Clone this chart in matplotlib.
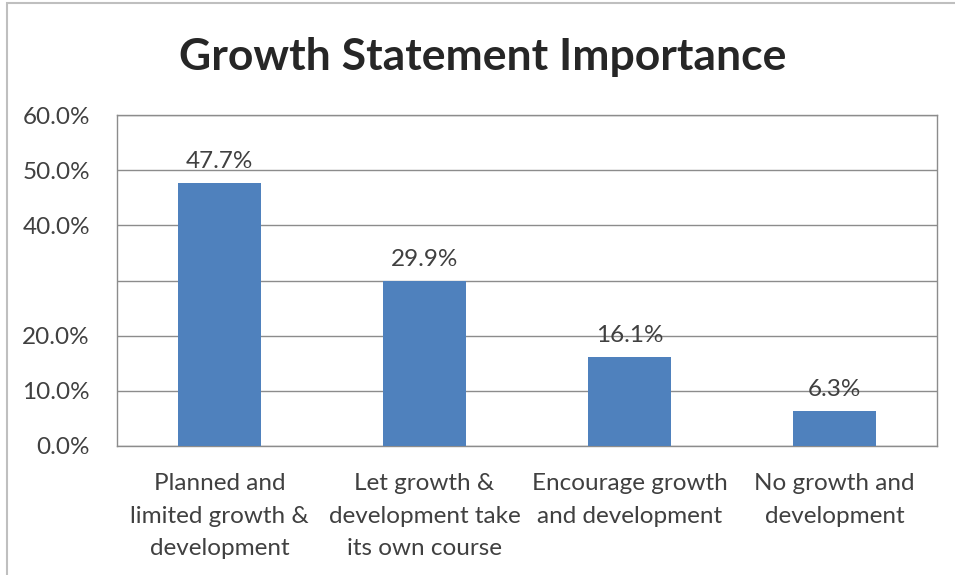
import matplotlib.pyplot as plt
from matplotlib.patches import Rectangle

categories = ["Planned and\nlimited growth &\ndevelopment",
              "Let growth &\ndevelopment take\nits own course",
              "Encourage growth\nand development",
              "No growth and\ndevelopment"]
values = [47.7, 29.9, 16.1, 6.3]
yticks = [0, 10, 20, 30, 40, 50, 60]
ytick_labels = ["0.0%", "10.0%", "20.0%", "", "40.0%", "50.0%", "60.0%"]

plt.rcParams['font.family'] = ['Lato', 'DejaVu Sans']
txt = "#404040"

fig = plt.figure(figsize=(9.55, 5.75), dpi=100)
W, H = 955, 575

# chart frame
fig.patches.append(Rectangle((7 / W, -0.1), 1.1, (575 - 3) / H + 0.1,
                             transform=fig.transFigure, fill=False,
                             edgecolor="#BFBFBF", linewidth=1.5))

ax = fig.add_axes([117 / W, 129 / H, 820 / W, 331 / H])
x = range(len(values))
ax.bar(x, values, width=0.405, color="#4F81BD", zorder=3)
for i, v in zip(x, values):
    ax.text(i, v + 2.0, f"{v:.1f}%", ha="center", va="bottom",
            fontsize=17.5, color=txt)

ax.set_xlim(-0.5, len(values) - 0.5)
ax.set_ylim(0, 60)
ax.set_yticks(yticks)
ax.set_yticklabels(ytick_labels)
ax.set_xticks(list(x))
ax.set_xticklabels(categories, linespacing=1.68)
ax.tick_params(axis="both", length=0, labelsize=17.5, labelcolor=txt)
ax.tick_params(axis="y", pad=19.5)
ax.tick_params(axis="x", pad=19.5)
for lbl in ax.get_yticklabels():
    lbl.set_horizontalalignment("right")
ax.grid(axis="y", color="#8C8C8C", linewidth=1, zorder=0)
for s in ax.spines.values():
    s.set_color("#8C8C8C")
    s.set_linewidth(1)

fig.text(483 / W, 1 - 57 / H, "Growth Statement Importance", ha="center",
         va="center", fontsize=32, fontweight="bold", color="#262626")

fig.savefig("out.png", dpi=100)
